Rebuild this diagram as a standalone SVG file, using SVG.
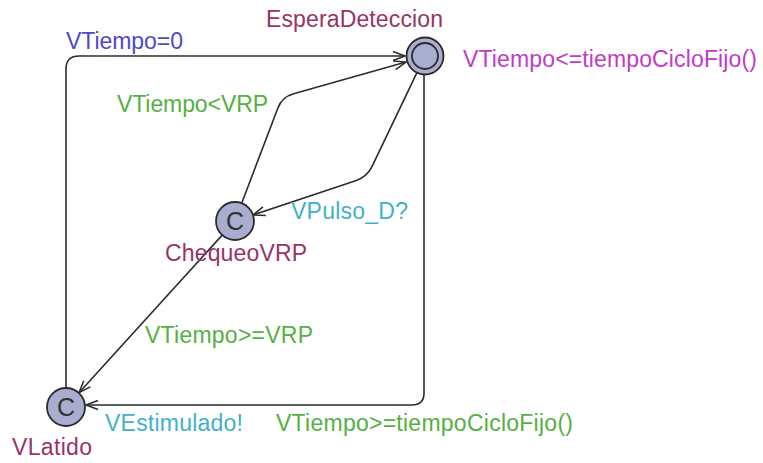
<svg xmlns="http://www.w3.org/2000/svg" width="763" height="463" viewBox="0 0 763 463">
  <defs>
    <marker id="arrow" markerUnits="userSpaceOnUse" markerWidth="16" markerHeight="12" refX="0" refY="0" viewBox="-14 -6 16 12" orient="auto" overflow="visible">
      <path d="M -12 -4.5 L 0 0 L -12 4.5" fill="none" stroke="#2b2b2b" stroke-width="1.5"/>
    </marker>
    <style>
      text { font-family: "Liberation Sans", Arial, sans-serif; font-size: 23px; }
      .loc { fill: #a9adcf; stroke: #2b2b2b; stroke-width: 1.8; }
      .inner { fill: none; stroke: #2b2b2b; stroke-width: 1.8; }
      .c { fill: #333333; font-size: 25px; text-anchor: middle; }
      .name { fill: #993366; }
      .inv { fill: #c03cc8; }
      .guard { fill: #55b043; }
      .sync { fill: #3fb2c8; }
      .assign { fill: #5048c8; }
      .edge { fill: none; stroke: #2b2b2b; stroke-width: 1.6; marker-end: url(#arrow); }
    </style>
  </defs>

  <rect width="763" height="463" fill="#ffffff"/>

  <!-- transitions -->
  <g id="edges">
    <!-- VLatido -> EsperaDeteccion -->
    <path class="edge" d="M 66 388 L 66 69 Q 66 56 79 56 L 405 56"/>
    <!-- ChequeoVRP -> EsperaDeteccion -->
    <path class="edge" d="M 241.7 203.2 L 277.8 108.2 Q 282 97 293.6 93.8 L 406 62"/>
    <!-- EsperaDeteccion -> ChequeoVRP -->
    <path class="edge" d="M 417.2 72.2 L 372.2 166.2 Q 367 177 355.6 180.8 L 253 215"/>
    <!-- ChequeoVRP -> VLatido -->
    <path class="edge" d="M 222.2 235.1 L 79 392.7"/>
    <!-- EsperaDeteccion -> VLatido -->
    <path class="edge" d="M 424 75 L 424 393 Q 424 405 412 405 L 86 405"/>

    <text class="assign" x="66" y="49" textLength="117">VTiempo=0</text>
    <text class="guard" x="117" y="112" textLength="151">VTiempo&lt;VRP</text>
    <text class="sync" x="291" y="219" textLength="117">VPulso_D?</text>
    <text class="guard" x="145" y="343" textLength="168">VTiempo&gt;=VRP</text>
    <text class="sync" x="105" y="431" textLength="138">VEstimulado!</text>
    <text class="guard" x="276" y="431" textLength="297">VTiempo&gt;=tiempoCicloFijo()</text>
  </g>

  <!-- locations -->
  <g id="EsperaDeteccion">
    <circle class="loc" cx="425" cy="56" r="18.5"/>
    <circle class="inner" cx="425" cy="56" r="13"/>
    <text class="name" x="266" y="27" textLength="177">EsperaDeteccion</text>
    <text class="inv" x="463" y="67" textLength="294">VTiempo&lt;=tiempoCicloFijo()</text>
  </g>

  <g id="ChequeoVRP">
    <circle class="loc" cx="235" cy="221" r="19"/>
    <text class="c" x="235" y="230">C</text>
    <text class="name" x="165" y="261" textLength="142">ChequeoVRP</text>
  </g>

  <g id="VLatido">
    <circle class="loc" cx="66" cy="407" r="19"/>
    <text class="c" x="66" y="416">C</text>
    <text class="name" x="12" y="455" textLength="80">VLatido</text>
  </g>
</svg>
